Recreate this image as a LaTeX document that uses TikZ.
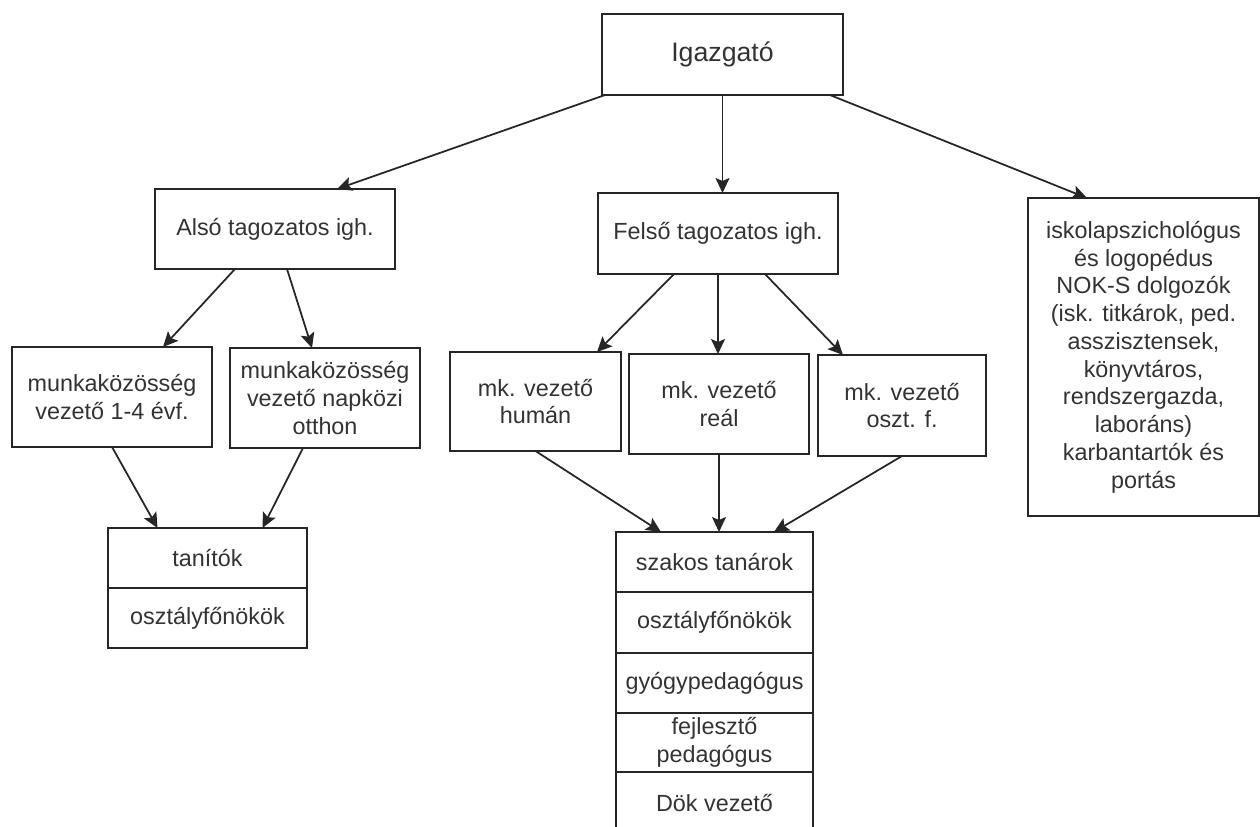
\documentclass[tikz,border=0pt]{standalone}
\usepackage{fontspec}
\setmainfont{Liberation Sans}
\usepackage{tikz}
\usetikzlibrary{calc, positioning, arrows.meta}

\begin{document}
\begin{tikzpicture}[x=0.02cm, y=-0.02cm,
    box/.style={rectangle, draw=black!85, line width=1pt, align=center, inner sep=2pt, outer sep=0pt, text=black!80, font=\fontsize{13.3}{15.8}\selectfont},
    arr/.style={-{Stealth[length=0.3cm, width=0.28cm, inset=0.06cm]}, line width=1pt, draw=black!85}]
        \clip (0,0) rectangle (1260,826);
        \fill[white] (0,0) rectangle (1260,826);

        % Nodes
        \node (igazgato) [box, minimum width=4.82cm, minimum height=1.62cm, font=\fontsize{15.2}{18}\selectfont] at (722.5,54.5) {Igazgató};
        \node (also) [box, minimum width=4.8cm, minimum height=1.6cm] at (275,229) {Alsó tagozatos igh.};
        \node (felso) [box, minimum width=4.8cm, minimum height=1.62cm] at (718,233.5) {Felső tagozatos igh.};
        \node (egyeb) [box, minimum width=4.62cm, minimum height=6.36cm] at (1143.5,357) {iskolapszichológus\\és logopédus\\NOK-S dolgozók\\(isk. titkárok, ped.\\asszisztensek,\\könyvtáros,\\rendszergazda,\\laboráns)\\karbantartók és\\portás};

        \node (mkevf) [box, minimum width=4.0cm, minimum height=2.0cm] at (112,397) {munkaközösség\\vezető 1-4 évf.};
        \node (mknapkozi) [box, minimum width=3.8cm, minimum height=2.0cm] at (325,398) {munkaközösség\\vezető napközi\\otthon};
        \node (mkhuman) [box, minimum width=3.42cm, minimum height=1.98cm] at (535.5,401.5) {mk. vezető\\humán};
        \node (mkreal) [box, minimum width=3.6cm, minimum height=2.0cm] at (719,404) {mk. vezető\\reál};
        \node (mkoszt) [box, minimum width=3.36cm, minimum height=2.02cm] at (902,405.5) {mk. vezető\\oszt. f.};

        \node (tanitok) [box, minimum width=3.98cm, minimum height=1.2cm] at (207.5,558) {tanítók};
        \node (ofalso) [box, minimum width=3.98cm, minimum height=1.2cm, below=0pt of tanitok] {osztályfőnökök};

        \node (szakos) [box, minimum width=3.94cm, minimum height=1.2cm] at (714.5,562) {szakos tanárok};
        \node (offelso) [box, minimum width=3.94cm, minimum height=1.22cm, below=0pt of szakos] {osztályfőnökök};
        \node (gyogyped) [box, minimum width=3.94cm, minimum height=1.2cm, below=0pt of offelso] {gyógypedagógus};
        \node (fejleszto) [box, minimum width=3.94cm, minimum height=1.18cm, below=0pt of gyogyped] {fejlesztő\\pedagógus};
        \node (dok) [box, minimum width=3.94cm, minimum height=1.24cm, below=0pt of fejleszto] {Dök vezető};

        % Arrows
        \draw[arr] ([xshift=0.06cm]igazgato.south west) -- ([xshift=1.24cm]also.north);
        \draw[arr] (igazgato.south) -- (igazgato.south |- felso.north);
        \draw[arr] ([xshift=-0.26cm]igazgato.south east) -- ([xshift=1.18cm]egyeb.north west);

        \draw[arr] ([xshift=-0.8cm]also.south) -- ([xshift=1.02cm]mkevf.north);
        \draw[arr] ([xshift=0.24cm]also.south) -- ([xshift=-0.26cm]mknapkozi.north);
        \draw[arr] (mkevf.south) -- ([xshift=-1.0cm]tanitok.north);
        \draw[arr] ([xshift=-0.44cm]mknapkozi.south) -- ([xshift=1.1cm]tanitok.north);

        \draw[arr] ([xshift=-0.88cm]felso.south) -- ([xshift=1.23cm]mkhuman.north);
        \draw[arr] (felso.south) -- (felso.south |- mkreal.north);
        \draw[arr] ([xshift=0.94cm]felso.south) -- ([xshift=-1.18cm]mkoszt.north);

        \draw[arr] (mkhuman.south) -- ([xshift=-1.07cm]szakos.north);
        \draw[arr] (mkreal.south) -- (mkreal.south |- szakos.north);
        \draw[arr] (mkoszt.south) -- ([xshift=1.19cm]szakos.north);
    \end{tikzpicture}
\end{document}
